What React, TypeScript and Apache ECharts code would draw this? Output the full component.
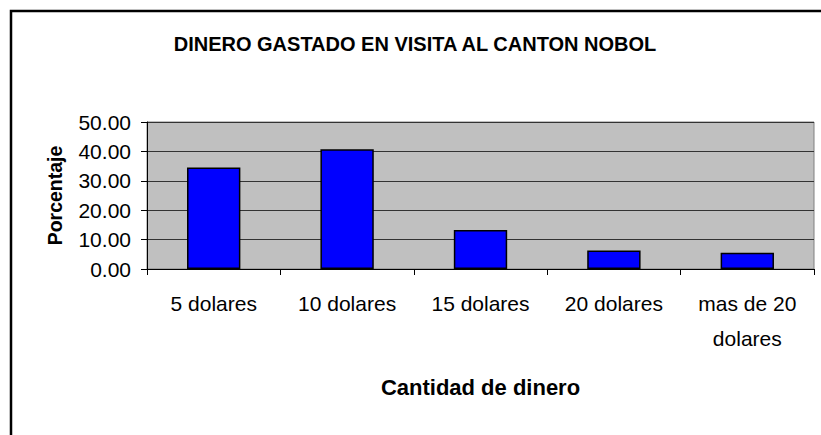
import React, { useEffect, useRef } from "react";
import * as echarts from "echarts";

const titleText = "DINERO GASTADO EN VISITA AL CANTON NOBOL";
const categories = ["5 dolares", "10 dolares", "15 dolares", "20 dolares", "mas de 20 dolares"];
const categoryLabels = ["5 dolares", "10 dolares", "15 dolares", "20 dolares", "mas de 20\ndolares"];
const values = [34.5, 40.7, 13.3, 6.3, 5.5];
const yAxisTitle = "Porcentaje";
const xAxisTitle = "Cantidad de dinero";

const FONT = "'Liberation Sans', Arial, sans-serif";

export default function App() {
  const ref = useRef<HTMLDivElement>(null);
  useEffect(() => {
    if (!ref.current) return;
    const chart = echarts.init(ref.current, undefined, { renderer: "svg" });
    chart.setOption({
      animation: false,
      backgroundColor: "#ffffff",
      title: {
        text: titleText,
        left: 410,
        textAlign: "center",
        top: 29,
        textStyle: {
          fontFamily: FONT,
          fontWeight: "bold",
          fontSize: 20,
          color: "#000",
        },
      },
      graphic: [
        {
          type: "rect",
          shape: { x: 11, y: 11, width: 1000, height: 1000 },
          style: { fill: "none", stroke: "#000", lineWidth: 2.5 },
          silent: true,
          z: 100,
        },
      ],
      grid: {
        left: 147,
        top: 122,
        width: 667,
        height: 147,
        show: true,
        backgroundColor: "#C0C0C0",
        borderColor: "#808080",
        borderWidth: 1,
      },
      xAxis: {
        type: "category",
        data: categories,
        name: xAxisTitle,
        nameLocation: "middle",
        nameGap: 107,
        nameTextStyle: { fontFamily: FONT, fontWeight: "bold", fontSize: 22, color: "#000" },
        axisLine: { show: true, lineStyle: { color: "#000", width: 1 } },
        axisTick: { show: true, length: 6, alignWithLabel: false, lineStyle: { color: "#000" } },
        axisLabel: {
          margin: 17,
          fontFamily: FONT,
          fontSize: 21,
          color: "#000",
          lineHeight: 35,
          interval: 0,
          formatter: (_v: string, i: number) => categoryLabels[i],
        },
        splitLine: { show: false },
      },
      yAxis: {
        type: "value",
        min: 0,
        max: 50,
        interval: 10,
        name: yAxisTitle,
        nameLocation: "middle",
        nameGap: 82,
        nameRotate: 90,
        nameTextStyle: { fontFamily: FONT, fontWeight: "bold", fontSize: 19.5, color: "#000" },
        axisLine: { show: true, lineStyle: { color: "#000", width: 1 } },
        axisTick: { show: true, length: 6, lineStyle: { color: "#000" } },
        axisLabel: {
          margin: 16,
          fontFamily: FONT,
          fontSize: 21,
          color: "#000",
          formatter: (v: number) => v.toFixed(2),
        },
        splitLine: { show: true, lineStyle: { color: "#333", width: 1 } },
      },
      series: [
        {
          type: "bar",
          data: values,
          barWidth: "40%",
          itemStyle: { color: "#0000FF", borderColor: "#000", borderWidth: 1.5 },
        },
      ],
    });
    return () => chart.dispose();
  }, []);
  return (
    <div
      ref={ref}
      style={{ position: "absolute", left: 0, top: 0, width: 821, height: 435 }}
    />
  );
}
